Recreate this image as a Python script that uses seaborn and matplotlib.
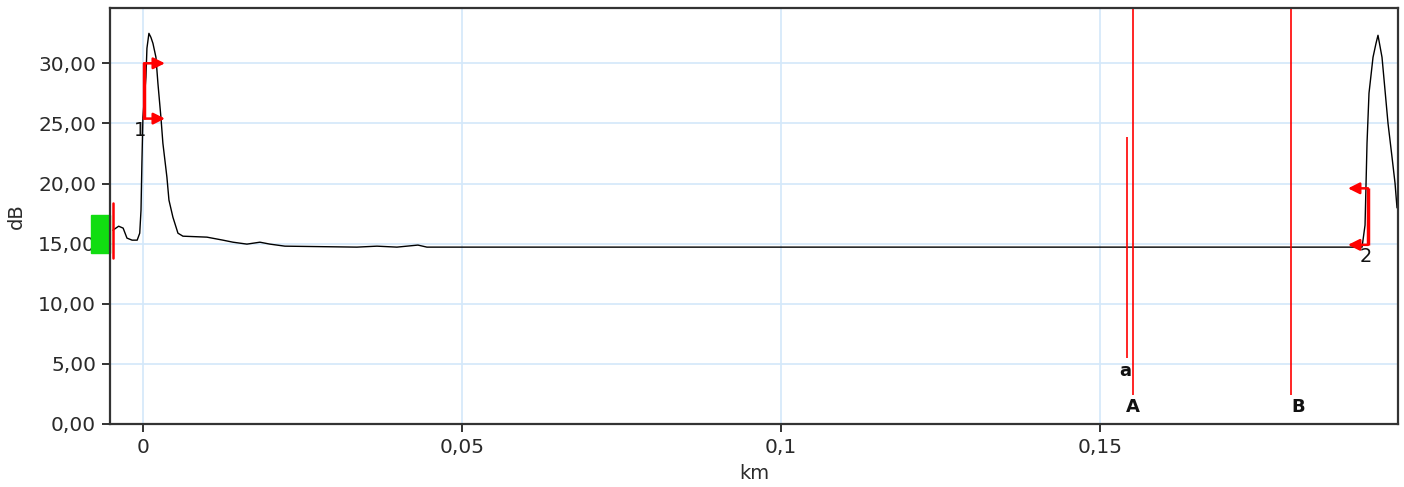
import numpy as np
import pandas as pd
from matplotlib import pyplot as plt
from matplotlib.patches import Rectangle
from matplotlib.ticker import FuncFormatter
import seaborn as sns

sns.set_style('white', {'axes.grid': True, 'xtick.bottom': True, 'ytick.left': True})
plt.rcParams['font.family'] = ['DejaVu Sans']

# trace (km, dB)
km = [-0.0047, -0.0038, -0.0031, -0.0025, -0.0017, -0.0009, -0.0005, -0.0003, -0.00016, 0.0,
      0.00047, 0.00063, 0.00094, 0.00125, 0.00157, 0.00204, 0.00235, 0.00282, 0.00313, 0.00376,
      0.00408, 0.0047, 0.00549, 0.00627, 0.01003, 0.01254, 0.01411, 0.0163, 0.01834, 0.0199,
      0.02226, 0.03354, 0.03668, 0.03981, 0.0431, 0.04451, 0.19107, 0.19154, 0.19185, 0.19216,
      0.19279, 0.19326, 0.19357, 0.1942, 0.19467, 0.19514, 0.19577, 0.19624, 0.19655, 0.1967]
db = [16.12, 16.45, 16.29, 15.46, 15.29, 15.29, 15.87, 17.78, 21.69, 25.51,
      28.84, 31.25, 32.49, 32.16, 31.66, 30.50, 28.34, 25.51, 23.35, 20.53,
      18.62, 17.20, 15.87, 15.62, 15.54, 15.29, 15.12, 14.96, 15.12, 14.96,
      14.79, 14.71, 14.79, 14.71, 14.88, 14.71, 14.71, 16.54, 23.35, 27.51,
      30.50, 31.66, 32.33, 30.50, 27.76, 25.01, 22.19, 20.03, 17.98, 17.98]

# cursors and events
cursor_names = ['A', 'B']
cursor_km = [0.1552, 0.1800]
marker_a_km = 0.1542
marker_a_db = (5.5, 23.85)
event_names = ['1', '2']
event_km = [0.00016, 0.19201]
event_tip_km = [0.00345, 0.18887]
event_db = [(25.4, 30.0), (14.9, 19.6)]
launch_km = -0.0047
launch_db = (13.8, 18.4)

xticks = [0, 0.05, 0.1, 0.15]
xticklabels = ['0', '0,05', '0,1', '0,15']
yticks = [0, 5, 10, 15, 20, 25, 30]

df = pd.DataFrame({'km': km, 'dB': db})

fig = plt.figure(figsize=(14.04, 4.87), dpi=100)
ax = fig.add_axes([0.0783, 0.1294, 0.9174, 0.8542])
sns.lineplot(x='km', y='dB', data=df, color='black', lw=1.0, sort=False, ax=ax)

ax.set_xlim(-0.00517, 0.1967)
ax.set_ylim(0, 34.6)
ax.set_xticks(xticks)
ax.set_xticklabels(xticklabels)
ax.set_yticks(yticks)
ax.yaxis.set_major_formatter(FuncFormatter(lambda v, p: '{:.2f}'.format(v).replace('.', ',')))
ax.grid(True, color='#d3e8fa', lw=1.2)
ax.set_axisbelow(True)
for s in ax.spines.values():
    s.set_color('#333333')
    s.set_linewidth(1.6)
ax.tick_params(direction='out', length=6, width=1.4, color='#333333',
               labelsize=14.5, labelcolor='#2a2a2a', pad=4)
ax.set_xlabel('km', fontsize=14, color='#2a2a2a', labelpad=5)
ax.set_ylabel('dB', fontsize=14, color='#2a2a2a', labelpad=9)

# cursors
for name, x in zip(cursor_names, cursor_km):
    ax.vlines(x, 2.4, 34.6, color='red', lw=1.2)
ax.text(cursor_km[0], 1.4, cursor_names[0], ha='center', va='center', fontsize=13, fontweight='bold', color='#111111')
ax.text(cursor_km[1] + 0.0011, 1.4, cursor_names[1], ha='center', va='center', fontsize=13, fontweight='bold', color='#111111')
ax.vlines(marker_a_km, marker_a_db[0], marker_a_db[1], color='red', lw=1.2)
ax.text(marker_a_km - 0.0002, 4.4, 'a', ha='center', va='center', fontsize=13, fontweight='bold', color='#111111')

# events
for name, x, tip, (y0, y1) in zip(event_names, event_km, event_tip_km, event_db):
    ax.plot([x, x], [y0, y1], color='red', lw=2.5, solid_capstyle='butt')
    for y in (y0, y1):
        ax.annotate('', xy=(tip, y), xytext=(x, y),
                    arrowprops=dict(arrowstyle='-|>', color='red', lw=1.8, mutation_scale=17, shrinkA=0, shrinkB=0))
ax.text(event_km[0] - 0.0006, 24.4, event_names[0], ha='center', va='center', fontsize=14, color='#111111')
ax.text(event_km[1] - 0.0003, 13.9, event_names[1], ha='center', va='center', fontsize=14, color='#111111')

# launch marker
ax.add_patch(Rectangle((-0.00815, 14.2), 0.00298, 3.15, color='#11dd11', clip_on=False, zorder=1))
ax.plot([launch_km, launch_km], list(launch_db), color='red', lw=1.8, clip_on=False, zorder=5)

plt.savefig('out.png', format='png', dpi=100)
print('finished')
